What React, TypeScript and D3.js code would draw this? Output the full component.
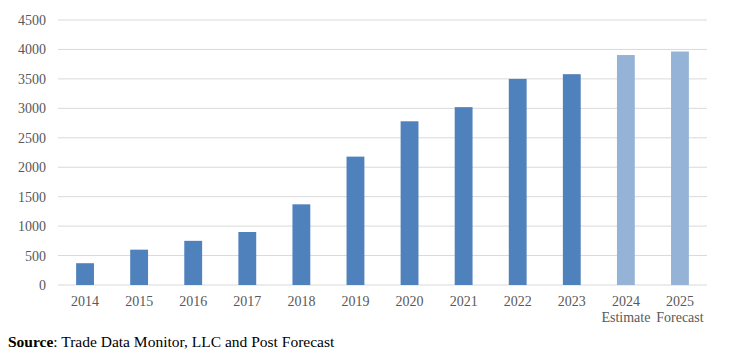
import React from "react";
import * as d3 from "d3";

const years = ["2014","2015","2016","2017","2018","2019","2020","2021","2022","2023","2024","2025"];
const values = [370, 600, 750, 900, 1370, 2180, 2780, 3020, 3500, 3580, 3905, 3965];
const subLabels = ["", "", "", "", "", "", "", "", "", "", "Estimate", "Forecast"];
const yTicks = [0, 500, 1000, 1500, 2000, 2500, 3000, 3500, 4000, 4500];

const W = 747, H = 355;
const left = 58, right = 707, top = 20, bottom = 285;

export default function App() {
  const x = d3.scaleBand<string>().domain(years).range([left, right]).paddingInner(0.67).paddingOuter(0.335);
  const y = d3.scaleLinear().domain([0, 4500]).range([bottom, top]);
  const font = "'Liberation Serif', 'Times New Roman', serif";
  return (
    <svg width={W} height={H} style={{ position: "absolute", left: 0, top: 0, background: "#fff" }}>
      {yTicks.map(t => (
        <g key={t}>
          <line x1={left} x2={right} y1={y(t)} y2={y(t)} stroke="#d9d9d9" strokeWidth={1} />
          <text x={46} y={y(t)} dy="0.36em" textAnchor="end" fontFamily={font} fontSize={14} fill="#595959">{t}</text>
        </g>
      ))}
      {years.map((yr, i) => (
        <rect key={yr} x={x(yr)} y={y(values[i])} width={x.bandwidth()} height={y(0) - y(values[i])}
          fill={subLabels[i] ? "#95b3d7" : "#4f81bd"} />
      ))}
      {years.map((yr, i) => (
        <g key={"l" + yr}>
          <text x={(x(yr) as number) + x.bandwidth() / 2} y={306} textAnchor="middle" fontFamily={font} fontSize={14} fill="#595959">{yr}</text>
          {subLabels[i] && (
            <text x={(x(yr) as number) + x.bandwidth() / 2} y={322} textAnchor="middle" fontFamily={font} fontSize={14} fill="#595959">{subLabels[i]}</text>
          )}
        </g>
      ))}
      <text x={8} y={347} fontFamily={font} fontSize={15.5} fill="#000">
        <tspan fontWeight="bold">Source</tspan>: Trade Data Monitor, LLC and Post Forecast
      </text>
    </svg>
  );
}
